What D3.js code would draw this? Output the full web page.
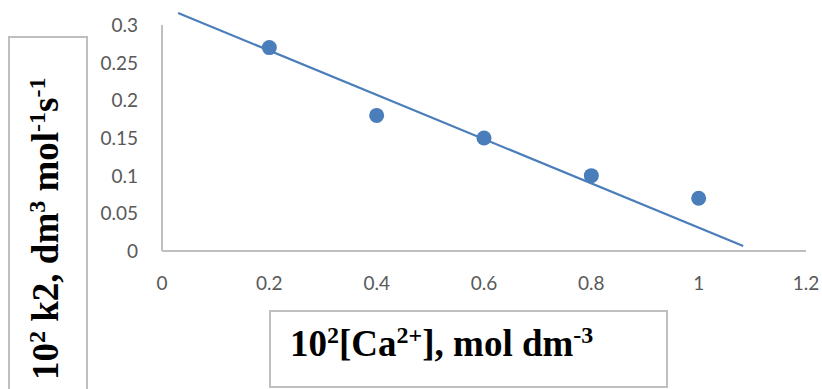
<!DOCTYPE html>
<html>
<head>
<meta charset="utf-8">
<script src="https://cdn.jsdelivr.net/npm/d3@7"></script>
<style>
  body { margin: 0; background: #fff; }
  svg { display: block; }
  .tick-label { font-family: Lato, "Open Sans", sans-serif; font-size: 19px; fill: #595959; }
  .title { font-family: "Liberation Serif", "Times New Roman", serif; font-weight: bold; fill: #000; }
</style>
</head>
<body>
<svg width="822" height="389"></svg>
<script>
// measured points
var concX = [0.2, 0.4, 0.6, 0.8, 1.0];
var rateY = [0.27, 0.18, 0.15, 0.10, 0.07];
// trend line as drawn (two ends)
var trendX = [0.03, 1.083];
var trendY = [0.316, 0.0066];
var xTicks = [0, 0.2, 0.4, 0.6, 0.8, 1, 1.2];
var yTicks = [0, 0.05, 0.1, 0.15, 0.2, 0.25, 0.3];
// titles, pieces with superscripts
var xTitle = [["10"], ["2", 1], ["[Ca"], ["2+", 1], ["], mol dm"], ["-3", 1]];
var yTitle = [["10"], ["2", 1], [" k2, dm"], ["3", 1], [" mol"], ["-1", 1], ["s"], ["-1", 1]];

var blue = "#4a7ebb", axisGrey = "#bfbfbf";
var svg = d3.select("svg");

var x = d3.scaleLinear().domain([0, 1.2]).range([162, 806]);
var y = d3.scaleLinear().domain([0, 0.3]).range([251, 25]);

// axis lines
svg.append("line").attr("x1", x(0)).attr("x2", x(1.2)).attr("y1", y(0)).attr("y2", y(0))
	.attr("stroke", axisGrey).attr("stroke-width", 2);
svg.append("line").attr("x1", x(0)).attr("x2", x(0)).attr("y1", y(0)).attr("y2", y(0.3))
	.attr("stroke", axisGrey).attr("stroke-width", 2);

// tick labels
svg.selectAll(".xt").data(xTicks).enter().append("text")
	.attr("class", "tick-label").attr("text-anchor", "middle")
	.attr("x", function(d) { return x(d); }).attr("y", y(0) + 39)
	.text(function(d) { return d; });
svg.selectAll(".yt").data(yTicks).enter().append("text")
	.attr("class", "tick-label").attr("text-anchor", "end")
	.attr("x", 138).attr("y", function(d) { return y(d) + 7; })
	.text(function(d) { return d; });

// trend line
var line = d3.line().x(function(d) { return x(d[0]); }).y(function(d) { return y(d[1]); });
svg.append("path").datum(d3.zip(trendX, trendY)).attr("d", line)
	.attr("fill", "none").attr("stroke", blue).attr("stroke-width", 2.2);

// points
svg.selectAll(".pt").data(d3.zip(concX, rateY)).enter().append("circle")
	.attr("cx", function(d) { return x(d[0]); }).attr("cy", function(d) { return y(d[1]); })
	.attr("r", 7.5).attr("fill", blue);

// superscripts: shift up, then the next plain piece shifts back down
function richText(sel, parts, size) {
	var up = 0.34 * size;
	var raised = false;
	parts.forEach(function(p) {
		var t = sel.append("tspan").text(p[0]);
		if (p[1]) {
			t.attr("font-size", Math.round(size * 0.66)).attr("dy", raised ? 0 : -up);
			raised = true;
		} else {
			t.attr("dy", raised ? up : 0);
			raised = false;
		}
	});
}

// x title box
svg.append("rect").attr("x", 270).attr("y", 311).attr("width", 397).attr("height", 76)
	.attr("fill", "#fff").attr("stroke", axisGrey).attr("stroke-width", 2);
var xt = svg.append("text").attr("class", "title").attr("font-size", 37)
	.attr("x", 290).attr("y", 356);
richText(xt, xTitle, 37);

// y title box
svg.append("rect").attr("x", 9).attr("y", 37).attr("width", 78).attr("height", 370)
	.attr("fill", "#fff").attr("stroke", axisGrey).attr("stroke-width", 2);
var yt = svg.append("text").attr("class", "title").attr("font-size", 37)
	.attr("transform", "translate(58,380) rotate(-90)");
richText(yt, yTitle, 37);
</script>
</body>
</html>
